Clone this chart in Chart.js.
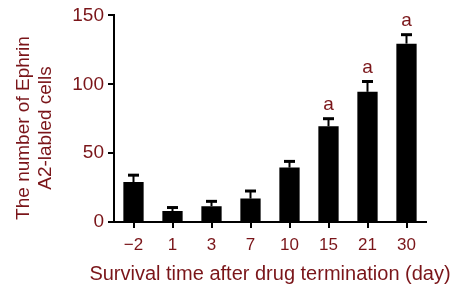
<!DOCTYPE html>
<html>
<head>
<meta charset="utf-8">
<script src="https://cdn.jsdelivr.net/npm/chart.js@4"></script>
<style>
  html, body { margin: 0; padding: 0; background: #fff; }
  #wrap { width: 454px; height: 284px; }
</style>
</head>
<body>
<div id="wrap"><canvas id="chart"></canvas></div>
<script>
// values
const days = ['\u22122', '1', '3', '7', '10', '15', '21', '30'];
const cellCounts = [29, 8, 11.5, 17, 39.5, 69.5, 94.5, 129.5];
const errorUp = [5, 2.5, 3.5, 5.5, 4.5, 5.5, 7.5, 6.5];
const marks = ['', '', '', '', '', 'a', 'a', 'a'];
const yTicks = [0, 50, 100, 150];
const xTitle = 'Survival time after drug termination (day)';
const yTitle = ['The number of Ephrin', 'A2-labled cells'];

const RED = '#7a1519';
const FONT = "'Liberation Sans', Arial, sans-serif";

// upward error bars with caps + significance letters
const errorBarPlugin = {
    id: 'errorBars',
    afterDatasetsDraw(chart) {
        const ctx = chart.ctx;
        const y = chart.scales.y;
        const meta = chart.getDatasetMeta(0);
        ctx.save();
        meta.data.forEach((bar, i) => {
            const top = y.getPixelForValue(cellCounts[i] + errorUp[i]);
            ctx.strokeStyle = '#000';
            ctx.lineWidth = 2;
            ctx.beginPath();
            ctx.moveTo(bar.x, bar.y);
            ctx.lineTo(bar.x, top);
            ctx.stroke();
            ctx.lineWidth = 3;
            ctx.beginPath();
            ctx.moveTo(bar.x - 5.5, top);
            ctx.lineTo(bar.x + 5.5, top);
            ctx.stroke();
            if (marks[i]) {
                ctx.fillStyle = RED;
                ctx.font = '19px ' + FONT;
                ctx.textAlign = 'center';
                ctx.textBaseline = 'alphabetic';
                ctx.fillText(marks[i], bar.x, top - 9);
            }
        });
        ctx.restore();
    }
};

// axis titles drawn by hand (built-in title squeezes text to the axis width)
const axisTitlePlugin = {
    id: 'axisTitles',
    afterDraw(chart) {
        const ctx = chart.ctx;
        const xs = chart.scales.x;
        ctx.save();
        ctx.fillStyle = RED;
        ctx.textAlign = 'center';
        ctx.textBaseline = 'middle';
        ctx.font = '20px ' + FONT;
        ctx.fillText(xTitle, (xs.left + xs.right) / 2, 274);
        ctx.font = '19px ' + FONT;
        ctx.translate(0, 128);
        ctx.rotate(-Math.PI / 2);
        yTitle.forEach((line, i) => ctx.fillText(line, 0, 24 + i * 22));
        ctx.restore();
    }
};

new Chart(document.getElementById('chart'), {
    type: 'bar',
    data: {
        labels: days,
        datasets: [{
            data: cellCounts,
            backgroundColor: '#000',
            borderWidth: 0,
            barPercentage: 0.52,
            categoryPercentage: 1
        }]
    },
    options: {
        responsive: true,
        maintainAspectRatio: false,
        animation: false,
        layout: { padding: { top: 14, right: 28, bottom: 30, left: 0 } },
        plugins: { legend: { display: false }, tooltip: { enabled: false } },
        scales: {
            x: {
                offset: true,
                afterFit: (axis) => { axis.height = 32; },
                border: { color: '#000', width: 2 },
                grid: { display: true, offset: false, drawOnChartArea: false, color: '#000', lineWidth: 2, tickLength: 6 },
                ticks: { color: RED, font: { family: FONT, size: 17 }, padding: 7 }
            },
            y: {
                min: 0,
                max: 150,
                afterFit: (axis) => { axis.width = 114; },
                afterBuildTicks: (axis) => { axis.ticks = yTicks.map(v => ({ value: v })); },
                border: { color: '#000', width: 2 },
                grid: { display: true, drawOnChartArea: false, color: '#000', lineWidth: 2, tickLength: 6 },
                ticks: { color: RED, font: { family: FONT, size: 19 }, padding: 4 }
            }
        }
    },
    plugins: [errorBarPlugin, axisTitlePlugin]
});
</script>
</body>
</html>
